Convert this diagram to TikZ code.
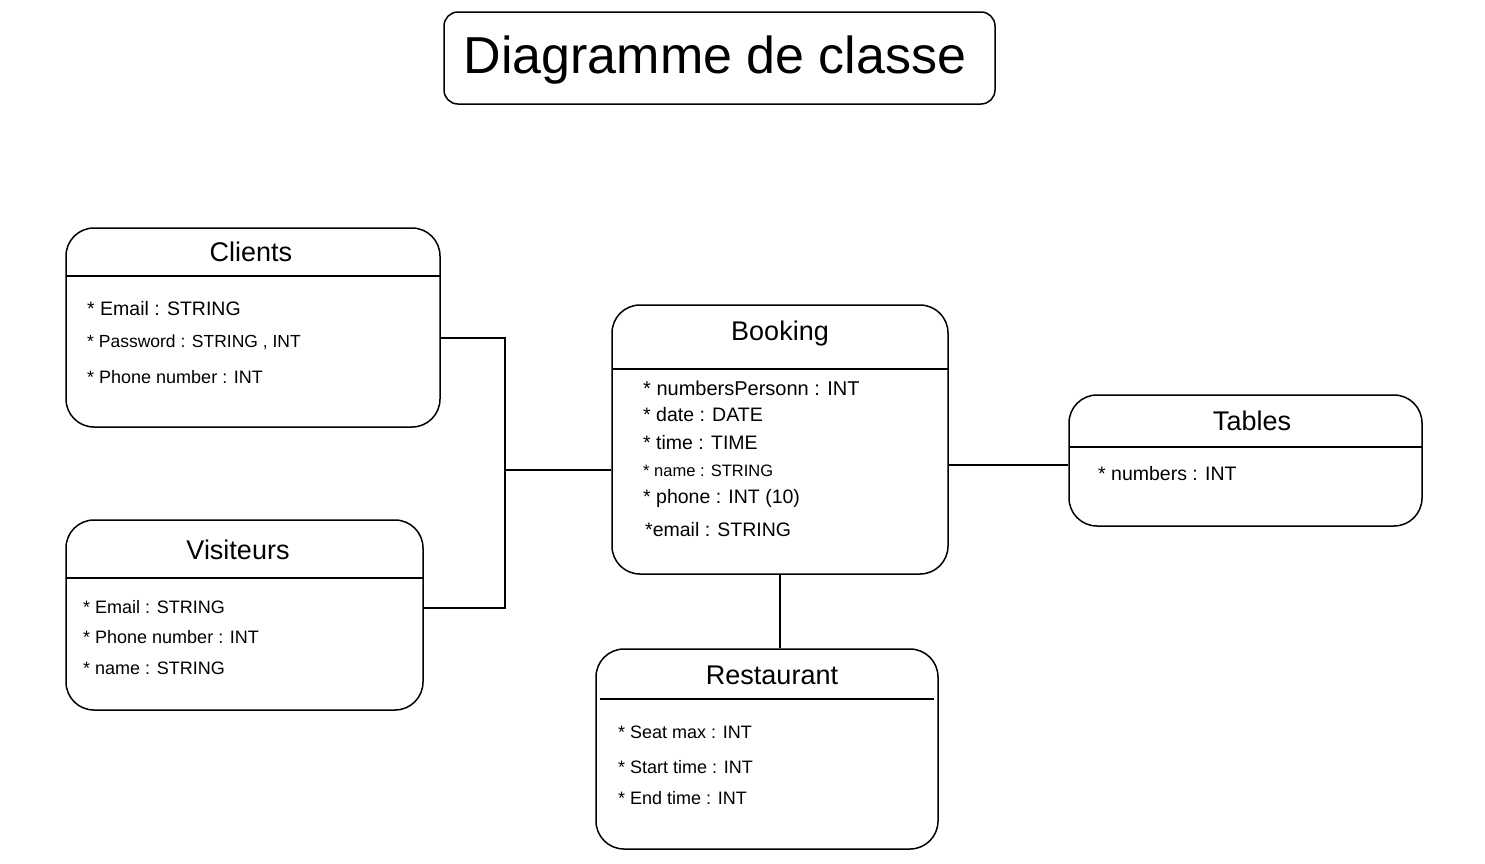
\documentclass[tikz,border=0pt]{standalone}
\usepackage{fontspec}
\setmainfont{Liberation Sans}
\begin{document}
\begin{tikzpicture}[x=1pt,y=-1pt,
  classbox/.style={draw,line width=1.5pt,rounded corners=28pt,inner sep=0pt},
  titlebox/.style={draw,line width=1.5pt,rounded corners=14pt,inner sep=0pt},
  divider/.style={line width=1.5pt},
  ctitle/.style={font=\fontsize{27}{30}\selectfont,inner sep=0pt},
  attr/.style={anchor=west,inner sep=0pt,font=\fontsize{19.5}{22}\selectfont},
  attrs/.style={anchor=west,inner sep=0pt,font=\fontsize{18}{20}\selectfont},
  attrxs/.style={anchor=west,inner sep=0pt,font=\fontsize{16.5}{19}\selectfont},
  attrb/.style={anchor=west,inner sep=0pt,font=\fontsize{20}{22}\selectfont},
  link/.style={line width=1.5pt}]
\fill[white] (0,0) rectangle (1485,863);
\useasboundingbox (0,0) rectangle (1485,863);

% title
\node[titlebox,minimum width=551pt,minimum height=92pt] (title) at (719.5,58) {};
\node[inner sep=0pt,font=\fontsize{52}{56}\selectfont] (titletext) at (715,60) {Diagramme de classe};

% Clients
\node[classbox,minimum width=374pt,minimum height=199pt] (clients) at (253,327.5) {};
\draw[divider] (66,276) -- (440,276);
\node[ctitle] (clientsT) at (251,252) {Clients};
\node[attr] (c1) at (87,309) {* Email : STRING};
\node[attrs,font=\fontsize{17.5}{20}\selectfont] (c2) at (87,342) {* Password : STRING , INT};
\node[attrs] (c3) at (87,377) {* Phone number : INT};

% Visiteurs
\node[classbox,minimum width=357pt,minimum height=190pt] (visiteurs) at (244.5,615) {};
\draw[divider] (66,578) -- (423,578);
\node[ctitle] (visiteursT) at (238,550) {Visiteurs};
\node[attrs] (v1) at (83,607) {* Email : STRING};
\node[attrs] (v2) at (83,637) {* Phone number : INT};
\node[attrs] (v3) at (83,668) {* name : STRING};

% Booking
\node[classbox,minimum width=336pt,minimum height=269pt] (booking) at (780,439.5) {};
\draw[divider] (612,369) -- (948,369);
\node[ctitle] (bookingT) at (780,334) {Booking};
\node[attrb] (b1) at (643,388) {* numbersPersonn : INT};
\node[attr] (b2) at (643,415) {* date : DATE};
\node[attr] (b3) at (643,443) {* time : TIME};
\node[attrxs] (b4) at (643,471) {* name : STRING};
\node[attr] (b5) at (643,498) {* phone : INT (10)};
\node[attr] (b6) at (645,530) {*email : STRING};

% Tables
\node[classbox,minimum width=353pt,minimum height=131pt] (tables) at (1245.5,460.5) {};
\draw[divider] (1069,447) -- (1422,447);
\node[ctitle] (tablesT) at (1252,421) {Tables};
\node[attr] (t1) at (1098,474) {* numbers : INT};

% Restaurant
\node[classbox,minimum width=342pt,minimum height=200pt] (restaurant) at (767,749) {};
\draw[divider] (600,699) -- (934,699);
\node[ctitle] (restaurantT) at (772,675) {Restaurant};
\node[attrs] (r1) at (618,732) {* Seat max : INT};
\node[attrs] (r2) at (618,767) {* Start time : INT};
\node[attrs] (r3) at (618,798) {* End time : INT};

% connectors
\coordinate (j1) at (505,338);
\coordinate (j2) at (505,608);
\coordinate (j3) at (505,470);
\coordinate (j4) at (1000,465);
\draw[link] (clients.east |- j1) -- (j1) -- (j2) -- (visiteurs.east |- j2);
\draw[link] (j3) -- (booking.west |- j3);
\draw[link] (booking.east |- j4) -- (tables.west |- j4);
\draw[link] (booking.south) -- (booking.south |- restaurant.north);
\end{tikzpicture}
\end{document}
